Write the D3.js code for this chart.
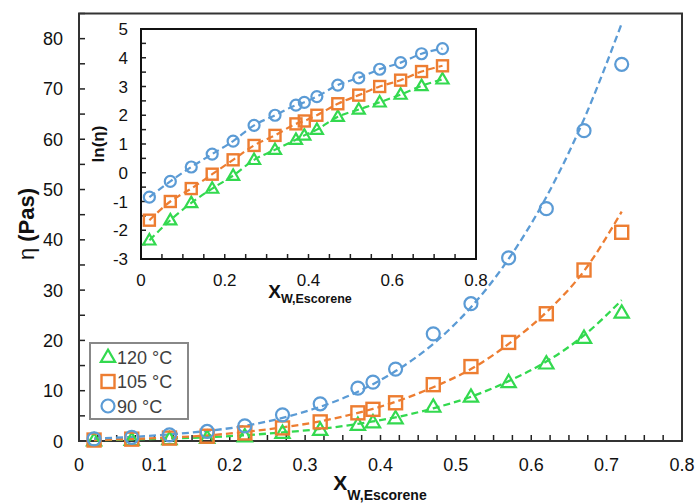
<!DOCTYPE html>
<html>
<head>
<meta charset="utf-8">
<script src="https://cdn.jsdelivr.net/npm/d3@7"></script>
<style>
  body { margin: 0; background: #fff; }
  svg { display: block; font-family: "Liberation Sans", Arial, sans-serif; }
</style>
</head>
<body>
<div id="chart"></div>
<script>
// mass fraction of Escorene
const xVals = [0.02, 0.07, 0.12, 0.17, 0.22, 0.27, 0.32, 0.37, 0.39, 0.42, 0.47, 0.52, 0.57, 0.62, 0.67, 0.72];

// measured viscosity (Pa s)
const eta120 = [0.1, 0.19, 0.35, 0.58, 0.9, 1.6, 2.2, 3.2, 3.7, 4.5, 6.8, 8.8, 11.7, 15.4, 20.5, 25.5];
const eta105 = [0.19, 0.37, 0.58, 0.95, 1.6, 2.6, 3.8, 5.6, 6.3, 7.6, 11.2, 14.8, 19.6, 25.3, 34.0, 41.5];
const eta90  = [0.43, 0.74, 1.22, 1.9, 3.0, 5.2, 7.4, 10.5, 11.7, 14.3, 21.3, 27.3, 36.4, 46.2, 61.7, 74.9];

// fitted curves (main chart)
const fit120 = [0.17, 0.3, 0.5, 0.75, 1.15, 1.7, 2.4, 3.4, 3.9, 4.7, 6.5, 8.8, 11.9, 15.8, 21.0, 28.0];
const fit105 = [0.2, 0.4, 0.7, 1.1, 1.8, 2.7, 3.9, 5.6, 6.4, 7.8, 10.7, 14.3, 19.3, 25.6, 33.8, 45.6];
const fit90  = [0.5, 0.8, 1.3, 2.0, 3.0, 4.6, 6.8, 9.8, 11.3, 13.9, 19.3, 26.6, 36.2, 48.5, 64.0, 83.0];

// ln(eta), inset
const ln120 = [-2.35, -1.65, -1.05, -0.55, -0.1, 0.45, 0.8, 1.15, 1.3, 1.5, 1.95, 2.2, 2.45, 2.72, 3.02, 3.25];
const ln105 = [-1.65, -1.0, -0.55, -0.05, 0.45, 0.95, 1.3, 1.7, 1.8, 2.0, 2.4, 2.7, 3.0, 3.22, 3.52, 3.72];
const ln90  = [-0.85, -0.3, 0.2, 0.65, 1.1, 1.65, 2.0, 2.35, 2.45, 2.65, 3.05, 3.3, 3.6, 3.83, 4.14, 4.32];

const seriesNames = ['120 °C', '105 °C', '90 °C'];
const seriesColors = ['#33d94f', '#ed7d31', '#5b9bd5'];
const seriesShapes = ['triangle', 'square', 'circle'];

const mainXTicks = [0, 0.1, 0.2, 0.3, 0.4, 0.5, 0.6, 0.7, 0.8];
const mainYTicks = [0, 10, 20, 30, 40, 50, 60, 70, 80];
const insetXTicks = [0, 0.2, 0.4, 0.6, 0.8];
const insetYTicks = [-3, -2, -1, 0, 1, 2, 3, 4, 5];

const width = 697, height = 504;
const svg = d3.select('#chart').append('svg')
    .attr('width', width)
    .attr('height', height);

const series = seriesNames.map((name, i) => ({
    name: name,
    color: seriesColors[i],
    shape: seriesShapes[i],
    eta: [eta120, eta105, eta90][i],
    fit: [fit120, fit105, fit90][i],
    ln: [ln120, ln105, ln90][i]
}));

function drawMarker(g, shape, color, size) {
    if (shape === 'circle') {
        g.append('circle').attr('r', size * 0.5)
            .attr('fill', 'none').attr('stroke', color).attr('stroke-width', 2.2);
    } else if (shape === 'square') {
        g.append('rect').attr('x', -size / 2).attr('y', -size / 2)
            .attr('width', size).attr('height', size)
            .attr('fill', 'none').attr('stroke', color).attr('stroke-width', 2.4);
    } else {
        const h = size * 0.95, w = size * 1.1;
        g.append('path')
            .attr('d', `M0,${-h * 0.6}L${w / 2},${h * 0.4}L${-w / 2},${h * 0.4}Z`)
            .attr('fill', 'none').attr('stroke', color).attr('stroke-width', 2.2)
            .attr('stroke-linejoin', 'miter');
    }
}

// ---------- main chart ----------
const x = d3.scaleLinear().domain([0, 0.8]).range([79, 682]);
const y = d3.scaleLinear().domain([0, 85]).range([441, 13.5]);

// minor ticks
const main = svg.append('g');
d3.range(0, 33).forEach(i => {
    const v = i * 0.025;
    main.append('line')
        .attr('x1', x(v)).attr('x2', x(v))
        .attr('y1', y(0)).attr('y2', y(0) - 6)
        .attr('stroke', '#222').attr('stroke-width', 1.5);
});
d3.range(0, 18).forEach(i => {
    const v = i * 5;
    main.append('line')
        .attr('x1', x(0)).attr('x2', x(0) + 6)
        .attr('y1', y(v)).attr('y2', y(v))
        .attr('stroke', '#222').attr('stroke-width', 1.5);
});

main.append('rect')
    .attr('x', x(0)).attr('y', y(85))
    .attr('width', x(0.8) - x(0)).attr('height', y(0) - y(85))
    .attr('fill', 'none').attr('stroke', '#333').attr('stroke-width', 2);

main.selectAll('.xlab').data(mainXTicks).enter().append('text')
    .attr('x', d => x(d)).attr('y', 471)
    .attr('text-anchor', 'middle')
    .style('font-size', '18px').attr('fill', '#111')
    .text(d => d === 0 ? '0' : d3.format('.1f')(d));

main.selectAll('.ylab').data(mainYTicks).enter().append('text')
    .attr('x', 63).attr('y', d => y(d) + 6.5)
    .attr('text-anchor', 'end')
    .style('font-size', '18px').attr('fill', '#111')
    .text(d => d);

// axis titles
const xt = main.append('text')
    .attr('x', 380).attr('y', 490)
    .attr('text-anchor', 'middle').attr('fill', '#111')
    .style('font-weight', 'bold');
xt.append('tspan').style('font-size', '21px').text('X');
xt.append('tspan').style('font-size', '14px').attr('dy', 10).text('W,Escorene');

const yt = main.append('text')
    .attr('transform', 'translate(34,224) rotate(-90)')
    .attr('text-anchor', 'middle').attr('fill', '#111')
    .style('font-size', '22px');
yt.append('tspan').text('η ');
yt.append('tspan').style('font-weight', 'bold').text('(Pas)');

const fitLine = d3.line()
    .x((d, i) => x(xVals[i]))
    .y(d => y(d))
    .curve(d3.curveMonotoneX);

series.forEach(s => {
    main.append('path')
        .datum(s.fit)
        .attr('d', fitLine)
        .attr('fill', 'none')
        .attr('stroke', s.color)
        .attr('stroke-width', 2.3)
        .attr('stroke-dasharray', '7,4');
});
series.forEach(s => {
    s.eta.forEach((v, i) => {
        const g = main.append('g').attr('transform', `translate(${x(xVals[i])},${y(v)})`);
        drawMarker(g, s.shape, s.color, 13);
    });
});

// legend
const legend = svg.append('g').attr('transform', 'translate(90,343)');
legend.append('rect')
    .attr('width', 98).attr('height', 76)
    .attr('fill', '#fff').attr('stroke', '#888').attr('stroke-width', 2);
series.forEach((s, i) => {
    const g = legend.append('g').attr('transform', `translate(18,${14 + i * 24.5})`);
    drawMarker(g, s.shape, s.color, 13);
    legend.append('text')
        .attr('x', 27).attr('y', 14 + i * 24.5 + 6.5)
        .style('font-size', '18px').attr('fill', '#404040')
        .text(s.name);
});

// ---------- inset ----------
const ix = d3.scaleLinear().domain([0, 0.8]).range([141, 476]);
const iy = d3.scaleLinear().domain([-3, 5]).range([259, 29]);
const inset = svg.append('g');

inset.append('rect')
    .attr('x', ix(0)).attr('y', iy(5))
    .attr('width', ix(0.8) - ix(0)).attr('height', iy(-3) - iy(5))
    .attr('fill', '#fff');

d3.range(0, 17).forEach(i => {
    const v = i * 0.05;
    inset.append('line')
        .attr('x1', ix(v)).attr('x2', ix(v))
        .attr('y1', iy(-3)).attr('y2', iy(-3) - 5)
        .attr('stroke', '#222').attr('stroke-width', 1.5);
});
d3.range(0, 17).forEach(i => {
    const v = -3 + i * 0.5;
    inset.append('line')
        .attr('x1', ix(0)).attr('x2', ix(0) + 5)
        .attr('y1', iy(v)).attr('y2', iy(v))
        .attr('stroke', '#222').attr('stroke-width', 1.5);
});

inset.append('rect')
    .attr('x', ix(0)).attr('y', iy(5))
    .attr('width', ix(0.8) - ix(0)).attr('height', iy(-3) - iy(5))
    .attr('fill', 'none').attr('stroke', '#111').attr('stroke-width', 2);

inset.selectAll('.ixlab').data(insetXTicks).enter().append('text')
    .attr('x', d => ix(d)).attr('y', 286)
    .attr('text-anchor', 'middle')
    .style('font-size', '17px').attr('fill', '#111')
    .text(d => d === 0 ? '0' : d3.format('.1f')(d));

inset.selectAll('.iylab').data(insetYTicks).enter().append('text')
    .attr('x', 128).attr('y', d => iy(d) + 6)
    .attr('text-anchor', 'end')
    .style('font-size', '17px').attr('fill', '#111')
    .text(d => d);

const ixt = inset.append('text')
    .attr('x', 310).attr('y', 298)
    .attr('text-anchor', 'middle').attr('fill', '#111')
    .style('font-weight', 'bold');
ixt.append('tspan').style('font-size', '19px').text('X');
ixt.append('tspan').style('font-size', '12.5px').attr('dy', 5).text('W,Escorene');

inset.append('text')
    .attr('transform', 'translate(104,144) rotate(-90)')
    .attr('text-anchor', 'middle').attr('fill', '#111')
    .style('font-size', '17px').style('font-weight', 'bold')
    .text('ln(η)');

const lnLine = d3.line()
    .x((d, i) => ix(xVals[i]))
    .y(d => iy(d))
    .curve(d3.curveMonotoneX);

series.forEach(s => {
    inset.append('path')
        .datum(s.ln)
        .attr('d', lnLine)
        .attr('fill', 'none')
        .attr('stroke', s.color)
        .attr('stroke-width', 2.2)
        .attr('stroke-dasharray', '7,4');
});
series.forEach(s => {
    s.ln.forEach((v, i) => {
        const g = inset.append('g').attr('transform', `translate(${ix(xVals[i])},${iy(v)})`);
        drawMarker(g, s.shape, s.color, 11);
    });
});
</script>
</body>
</html>
